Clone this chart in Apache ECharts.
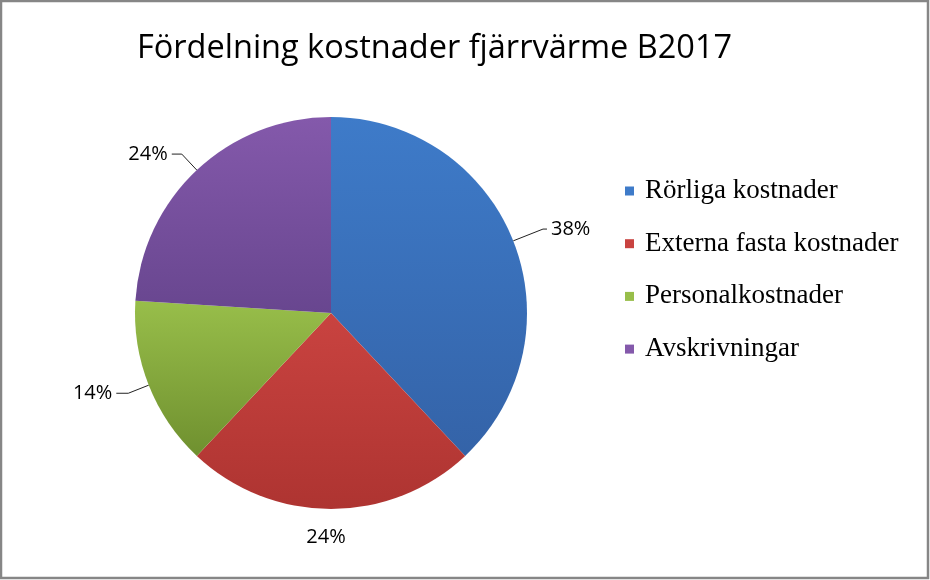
<!DOCTYPE html>
<html>
<head>
<meta charset="utf-8">
<script src="https://cdn.jsdelivr.net/npm/echarts@6/dist/echarts.min.js"></script>
<style>
html,body{margin:0;padding:0;background:#fff;}
#c{width:930px;height:580px;}
</style>
</head>
<body>
<div id="c"></div>
<script>
const titleText = 'Fördelning kostnader fjärrvärme B2017';
const categories = ['Rörliga kostnader', 'Externa fasta kostnader', 'Personalkostnader', 'Avskrivningar'];
const values = [38, 24, 14, 24];
const topColors = ['#3E7BC9', '#C94340', '#98BE4A', '#8459AB'];
const bottomColors = ['#3463A8', '#AE3431', '#6F902F', '#68468F'];
const lineLen1 = [32, 12, 22, 22];
const lineLen2 = [4, 0, 12, 10];
const lineShow = [true, false, true, true];

const chart = echarts.init(document.getElementById('c'), null, {renderer: 'canvas'});
const data = categories.map((name, i) => ({
  name: name,
  value: values[i],
  itemStyle: {
    color: {
      type: 'linear', x: 0, y: 0, x2: 0, y2: 1,
      colorStops: [{offset: 0, color: topColors[i]}, {offset: 1, color: bottomColors[i]}]
    }
  },
  labelLine: {show: lineShow[i], length: lineLen1[i], length2: lineLen2[i]}
}));

chart.setOption({
  animation: false,
  backgroundColor: '#ffffff',
  title: {
    text: titleText,
    left: 132,
    top: 27,
    textStyle: {
      fontFamily: '"Open Sans", sans-serif',
      fontWeight: 'normal',
      fontSize: 32.5,
      color: '#000'
    }
  },
  legend: {
    orient: 'vertical',
    left: 620,
    top: 171,
    itemWidth: 9,
    itemHeight: 9,
    itemGap: 22.7,
    icon: 'rect',
    data: categories.map((n, i) => ({name: n, itemStyle: {color: topColors[i]}})),
    textStyle: {
      fontFamily: '"Liberation Serif", "Times New Roman", serif',
      fontSize: 27,
      lineHeight: 30,
      color: '#000',
      padding: [0, 0, 0, 6]
    }
  },
  graphic: [{
    type: 'rect',
    shape: {x: 1, y: 1, width: 927, height: 577},
    style: {fill: 'none', stroke: '#868686', lineWidth: 2.5},
    silent: true,
    z: 100
  }],
  series: [{
    type: 'pie',
    center: [331, 313],
    radius: 196,
    startAngle: 90,
    clockwise: true,
    data: data,
    itemStyle: {borderWidth: 0},
    label: {
      show: true,
      formatter: '{d}%',
      fontFamily: '"Open Sans", "Noto Sans", sans-serif',
      fontSize: 20,
      color: '#000',
      position: 'outside',
      distanceToLabelLine: 4
    },
    labelLine: {
      show: true,
      lineStyle: {color: '#222', width: 1}
    },
    labelLayout: function (params) {
      if (params.dataIndex === 1) {
        return {
          x: params.rect.x + params.rect.width / 2 - 5,
          y: params.rect.y + params.rect.height + 28,
          align: 'center',
          verticalAlign: 'middle'
        };
      }
      return {};
    }
  }]
});
</script>
</body>
</html>
